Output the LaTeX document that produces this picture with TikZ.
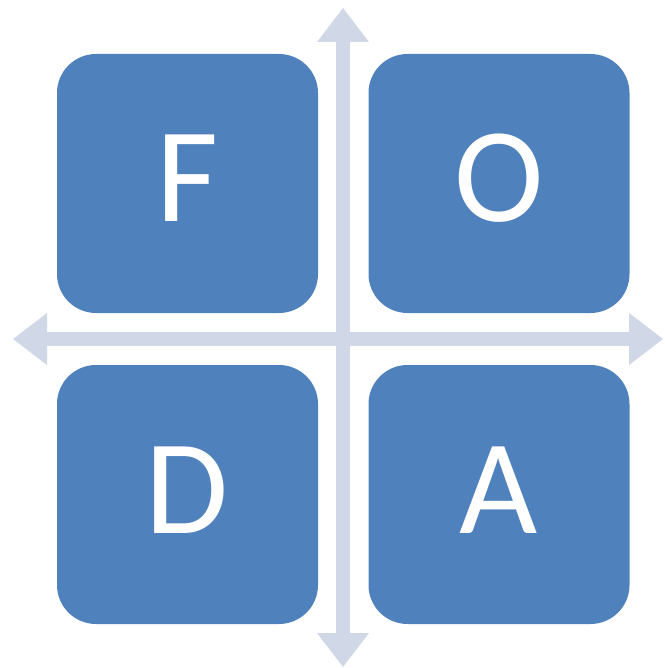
\documentclass[tikz,border=0pt]{standalone}
\usepackage{fontspec}
\setmainfont{Carlito}
\usetikzlibrary{arrows.meta}
\definecolor{quadblue}{HTML}{4F81BD}
\definecolor{axisgray}{HTML}{D0D8E8}
\tikzset{
  quad/.style={fill=quadblue, draw=none, rounded corners=39pt,
    minimum width=261pt, minimum height=259pt, inner sep=0pt},
  letter/.style={text=white, inner sep=0pt, anchor=base,
    font=\fontsize{135}{135}\selectfont},
  axis/.style={draw=axisgray, line width=14pt,
    {Triangle[width=52pt,length=34pt,line width=0pt,fill=axisgray]}-{Triangle[width=52pt,length=34pt,line width=0pt,fill=axisgray]}}
}
\begin{document}
\begin{tikzpicture}[x=1pt,y=-1pt]
  \useasboundingbox (0,0) rectangle (664,668);
  % axis end points
  \coordinate (top) at (343,8);
  \coordinate (bottom) at (343,667);
  \coordinate (left) at (13,339);
  \coordinate (right) at (663,339);
  \draw[axis] (bottom) -- (top);
  \draw[axis] (left) -- (right);
  % quadrants
  \node[quad] (F) at (187.5,183.5) {};
  \node[quad] (O) at (499,183.5) {};
  \node[quad] (D) at (187.5,494.5) {};
  \node[quad] (A) at (499,494.5) {};
  \node[letter] (lf) at ([yshift=-38.5pt]F.center) {F};
  \node[letter] (lo) at ([yshift=-38.5pt]O.center) {O};
  \node[letter] (ld) at ([yshift=-38.5pt]D.center) {D};
  \node[letter] (la) at ([yshift=-38.5pt]A.center) {A};
\end{tikzpicture}
\end{document}
